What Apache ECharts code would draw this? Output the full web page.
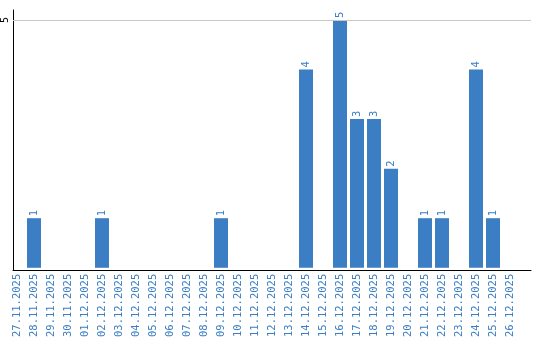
<!DOCTYPE html>
<html><head><meta charset="utf-8">
<script src="https://cdn.jsdelivr.net/npm/echarts@6/dist/echarts.min.js"></script>
<style>html,body{margin:0;padding:0;background:#fff}#c{width:540px;height:340px}</style>
</head><body><div id="c"></div>
<script>
const categories = ["27.11.2025","28.11.2025","29.11.2025","30.11.2025","01.12.2025","02.12.2025","03.12.2025","04.12.2025","05.12.2025","06.12.2025","07.12.2025","08.12.2025","09.12.2025","10.12.2025","11.12.2025","12.12.2025","13.12.2025","14.12.2025","15.12.2025","16.12.2025","17.12.2025","18.12.2025","19.12.2025","20.12.2025","21.12.2025","22.12.2025","23.12.2025","24.12.2025","25.12.2025","26.12.2025"];
const values = [0,1,0,0,0,1,0,0,0,0,0,0,1,0,0,0,0,4,0,5,3,3,2,0,1,1,0,4,1,0];
const yTicks = [5];

const blue = '#3b7ec3';
const font = 'DejaVu Sans Mono';
const chart = echarts.init(document.getElementById('c'), null, {renderer:'canvas'});
chart.setOption({
  animation:false,
  grid:[
    {left:10, right:9, top:10, bottom:70},
    {left:8.5, width:510, top:10, bottom:70}
  ],
  xAxis:[
    {gridIndex:0, type:'value', min:0, max:1, axisLine:{show:true,onZero:false,lineStyle:{color:'#000',width:1}}, axisTick:{show:false}, axisLabel:{show:false}, splitLine:{show:false}},
    {gridIndex:1, type:'category', data:categories, axisLine:{show:false}, axisTick:{show:false},
     axisLabel:{interval:0, rotate:90, color:blue, fontFamily:font, fontSize:10.5, margin:6}}
  ],
  yAxis:[
    {gridIndex:0, type:'value', min:0, max:5.2, interval:5,
     axisLine:{show:true,lineStyle:{color:'#000',width:1}}, axisTick:{show:false}, splitLine:{show:false},
     axisLabel:{rotate:90, margin:3, color:'#000', fontFamily:font, fontSize:10,
       formatter:v=>yTicks.includes(v)?String(v):''}},
    {gridIndex:1, type:'value', min:0, max:5.2, show:false}
  ],
  series:[
    {type:'line', xAxisIndex:0, yAxisIndex:0, data:[], silent:true,
     markLine:{symbol:'none', silent:true, label:{show:false}, lineStyle:{color:'#c8c8c8', type:'solid', width:1},
       data: yTicks.map(t=>({yAxis:t}))}},
    {type:'bar', xAxisIndex:1, yAxisIndex:1, data:values, barWidth:14,
     itemStyle:{color:blue},
     label:{show:true, position:'top', rotate:90, align:'left', verticalAlign:'middle', distance:2,
       color:blue, fontFamily:font, fontSize:10.5, formatter:p=>p.value? String(p.value):''}}
  ]
});
</script></body></html>
